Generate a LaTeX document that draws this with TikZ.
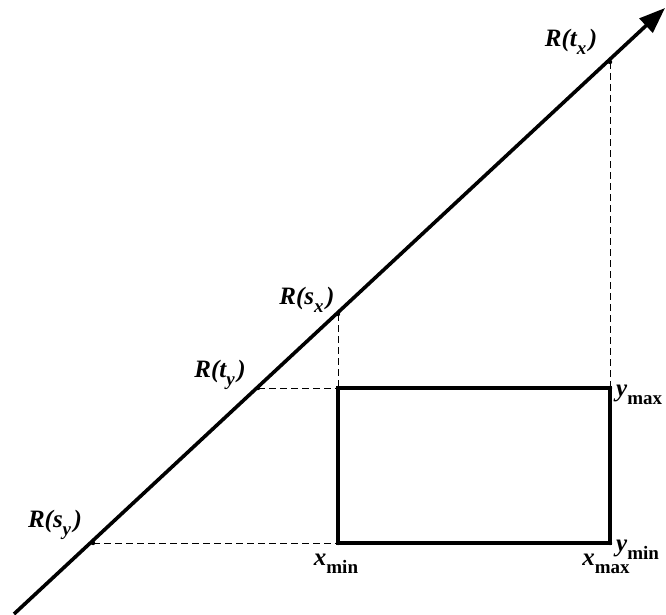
\documentclass[tikz,border=0pt]{standalone}
\usepackage{fontspec}
\setmainfont{Liberation Serif}
\usetikzlibrary{arrows.meta}
\tikzset{
  axisline/.style={line width=3.6pt,-{Triangle[length=26pt,width=19pt]}},
  rectline/.style={line width=3.6pt,line join=miter},
  guide/.style={line width=0.9pt,dash pattern=on 7pt off 4pt},
  lbl/.style={font=\fontsize{25}{30}\selectfont\bfseries\itshape,inner sep=0pt}
}
\newcommand{\sub}[1]{\raisebox{-0.32em}{\fontsize{19}{22}\selectfont #1}}
\newcommand{\Rof}[2]{R(#1\sub{#2}\kern2.5pt)}
\begin{document}
\begin{tikzpicture}[x=1pt,y=-1pt]
  \useasboundingbox (0,0) rectangle (666,615);
  % points on the line and corners of the box
  \coordinate (start) at (14,614);
  \coordinate (tip) at (665,8);
  \coordinate (sy) at (93,543);
  \coordinate (ty) at (258,388);
  \coordinate (sx) at (338,314);
  \coordinate (tx) at (610,62);
  \coordinate (ll) at (338,543);
  \coordinate (ul) at (338,388);
  \coordinate (ur) at (610,388);
  \coordinate (lr) at (610,543);
  \draw[guide] (sy) -- (ll);
  \draw[guide] (ty) -- (ul);
  \draw[guide] (sx) -- (ul);
  \draw[guide] (tx) -- (ur);
  \draw[rectline] (ul) rectangle (lr);
  \draw[axisline] (start) -- (tip);
  \foreach \p in {sy,ty,sx,tx,ll,ul,ur,lr} \fill (\p) circle (2.2pt);
  \node[lbl] (lsy) at (55,525) {\Rof{s}{y}};
  \node[lbl] (lty) at (220,375) {\Rof{t}{y}};
  \node[lbl] (lsx) at (307,300) {\Rof{s}{x}};
  \node[lbl] (ltx) at (571,42) {\Rof{t}{x}};
  \node[lbl,anchor=base west] (lymax) at (616,396) {y\sub{\upshape max}};
  \node[lbl,anchor=base west] (lymin) at (616,551) {y\sub{\upshape min}};
  \node[lbl,anchor=base] (lxmin) at (336,565) {x\sub{\upshape min}};
  \node[lbl,anchor=base] (lxmax) at (606,565) {x\sub{\upshape max}};
\end{tikzpicture}
\end{document}
